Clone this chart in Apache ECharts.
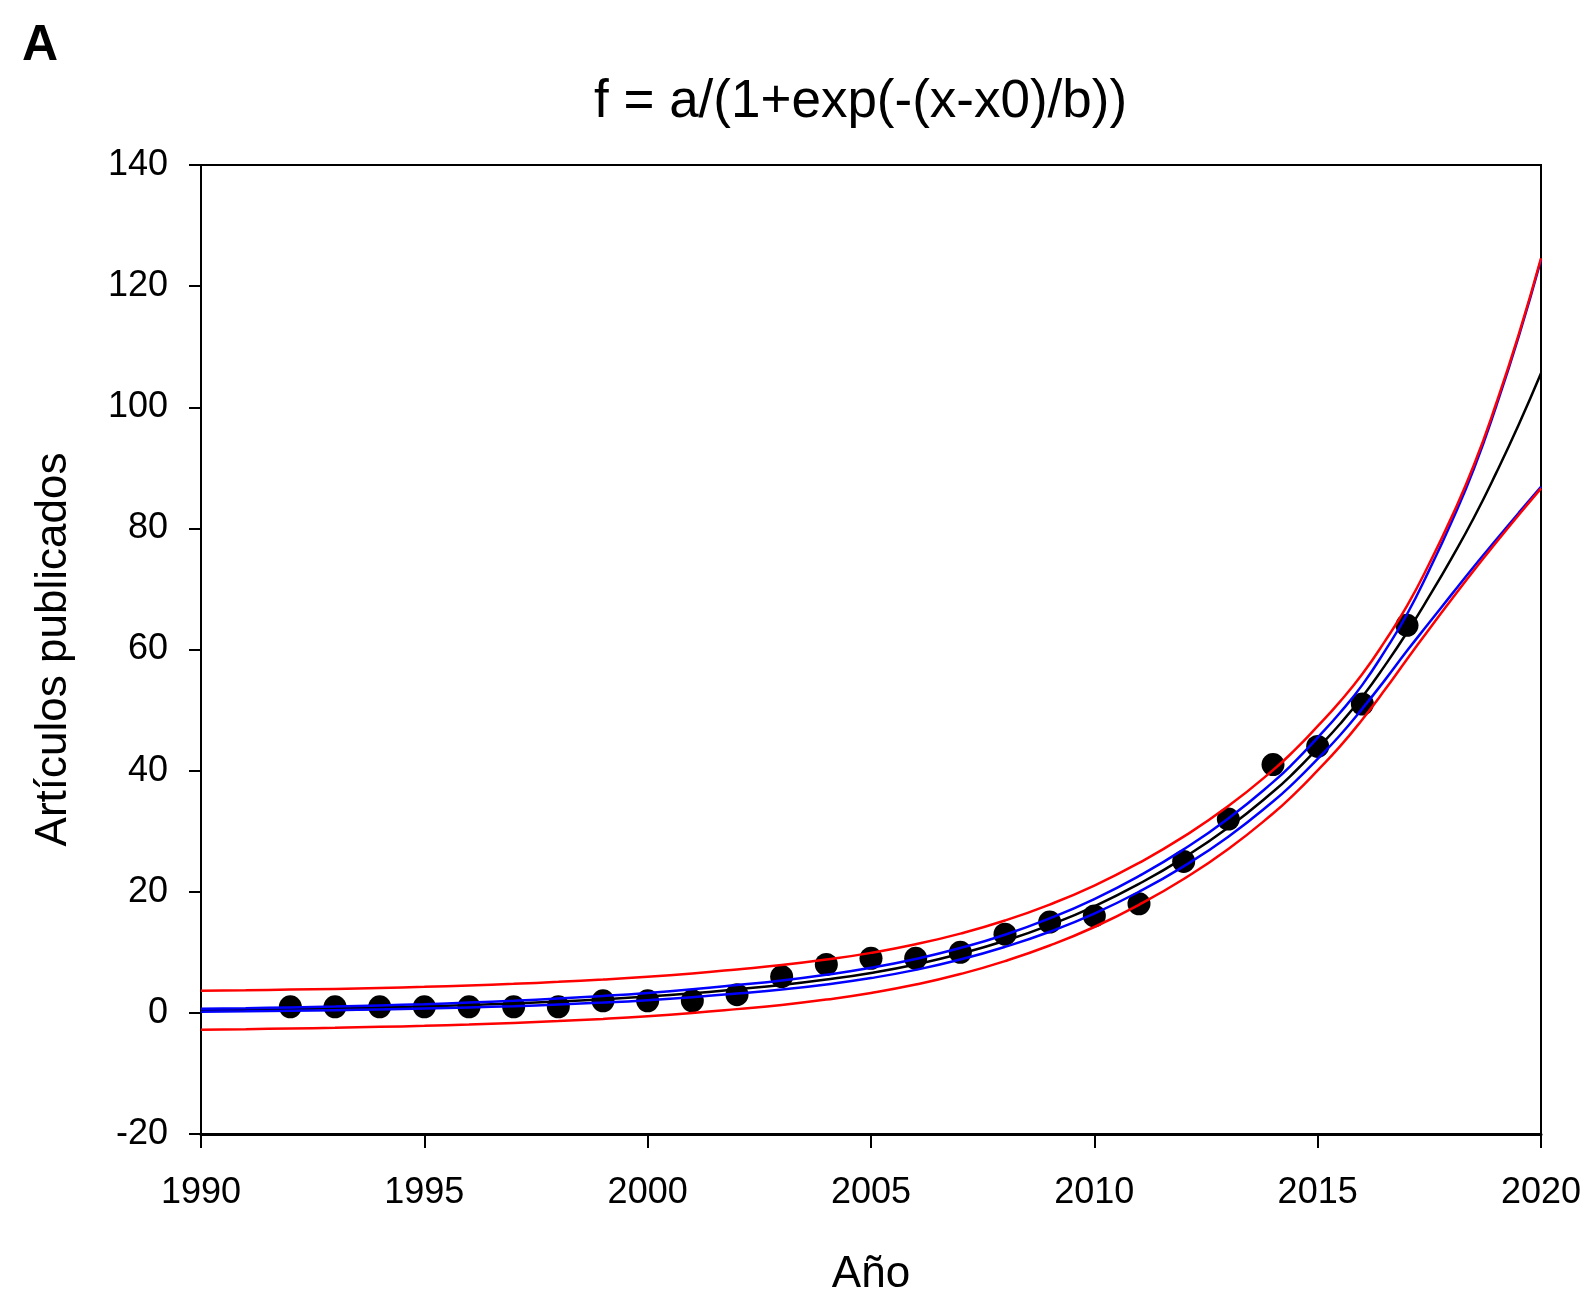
<!DOCTYPE html>
<html>
<head>
<meta charset="utf-8">
<title>Artículos publicados</title>
<script src="https://cdn.jsdelivr.net/npm/echarts@6/dist/echarts.min.js"></script>
<style>
  html, body { margin: 0; padding: 0; background: #fff; }
  #main { width: 1586px; height: 1295px; }
</style>
</head>
<body>
<div id="main"></div>
<script>
// observed counts
var pointYears = [1992, 1993, 1994, 1995, 1996, 1997, 1998, 1999, 2000, 2001, 2002, 2003, 2004,
  2005, 2006, 2007, 2008, 2009, 2010, 2011, 2012, 2013, 2014, 2015, 2016, 2017];
var articles = [1, 1, 1, 1, 1, 1, 1, 2, 2, 2, 3, 6, 8, 9, 9, 10, 13, 15, 16, 18, 25, 32, 41, 44, 51, 64];

// curves (yearly, half-yearly where the bands open up)
var curveYears = [1990, 1991, 1992, 1993, 1994, 1995, 1996, 1997, 1998, 1999, 2000, 2001, 2002, 2003,
  2004, 2005, 2006, 2007, 2008, 2009, 2010, 2011, 2012, 2013, 2014, 2014.5, 2015, 2015.5, 2016,
  2016.5, 2017, 2017.5, 2018, 2018.5, 2019, 2019.5, 2020];
var fit = [0.44, 0.52, 0.63, 0.75, 0.9, 1.08, 1.3, 1.56, 1.88, 2.25, 2.7, 3.25, 3.9, 4.6,
  5.5, 6.6, 8.0, 9.75, 11.9, 14.5, 17.6, 21.3, 25.6, 30.6, 36.5, 39.9, 43.7, 47.7, 52.2,
  57.3, 62.8, 68.8, 75.1, 81.8, 89.2, 97.1, 105.6];
var confUpper = [0.69, 0.77, 0.9, 1.05, 1.23, 1.44, 1.7, 2.01, 2.38, 2.8, 3.3, 3.9, 4.6, 5.35,
  6.3, 7.45, 8.9, 10.7, 12.9, 15.6, 18.8, 22.6, 27.0, 32.1, 38.1, 41.57, 45.46, 49.56, 54.16,
  59.7, 65.82, 73.15, 81.1, 89.89, 100.25, 111.65, 124.33];
var confLower = [0.19, 0.27, 0.36, 0.45, 0.57, 0.72, 0.9, 1.11, 1.38, 1.7, 2.1, 2.6, 3.2, 3.85,
  4.7, 5.75, 7.1, 8.8, 10.9, 13.4, 16.4, 20.0, 24.2, 29.1, 34.9, 38.23, 41.94, 45.84, 50.24,
  54.9, 59.78, 64.45, 69.1, 73.71, 78.15, 82.55, 86.87];
var predUpper = [3.65, 3.73, 3.84, 3.96, 4.11, 4.3, 4.53, 4.79, 5.12, 5.5, 5.96, 6.52, 7.18, 7.89,
  8.8, 9.91, 11.33, 13.09, 15.25, 17.88, 21.02, 24.76, 29.1, 34.14, 40.08, 43.51, 47.35, 51.4, 55.95,
  61.3, 67.2, 74.2, 81.9, 90.5, 100.7, 112.0, 124.6];
var predLower = [-2.77, -2.69, -2.58, -2.46, -2.31, -2.14, -1.93, -1.67, -1.36, -1.0, -0.56, -0.02, 0.62, 1.31,
  2.2, 3.29, 4.67, 6.41, 8.55, 11.12, 14.18, 17.84, 22.1, 27.06, 32.92, 36.29, 40.05, 44.0, 48.45,
  53.3, 58.4, 63.4, 68.3, 73.1, 77.7, 82.2, 86.6];

var fontFamily = '"Liberation Sans", Arial, Helvetica, sans-serif';

function pairs(xs, ys) {
  return xs.map(function (x, i) { return [x, ys[i]]; });
}

function curve(name, values, color, z) {
  return {
    name: name,
    type: 'line',
    data: pairs(curveYears, values),
    smooth: true,
    showSymbol: false,
    clip: true,
    z: z,
    lineStyle: { color: color, width: 2.5 }
  };
}

var chartDom = document.getElementById('main');
var myChart = echarts.init(chartDom, null, { renderer: 'canvas' });
var option;

option = {
  animation: false,
  backgroundColor: '#fff',
  textStyle: { fontFamily: fontFamily },
  title: [
    {
      text: 'A',
      left: 17,
      top: 16,
      textStyle: { fontFamily: fontFamily, fontSize: 50, fontWeight: 'bold', color: '#000' }
    },
    {
      text: 'f = a/(1+exp(-(x-x0)/b))',
      left: 589,
      top: 71,
      textStyle: { fontFamily: fontFamily, fontSize: 53, fontWeight: 'normal', color: '#000' }
    }
  ],
  grid: {
    left: 201,
    right: 45,
    top: 165,
    bottom: 161,
    outerBoundsMode: 'none',
    containLabel: false,
    show: true,
    borderColor: '#000',
    borderWidth: 2
  },
  xAxis: {
    type: 'value',
    min: 1990,
    max: 2020,
    interval: 5,
    name: 'Año',
    nameLocation: 'middle',
    nameGap: 119,
    nameTextStyle: { fontFamily: fontFamily, fontSize: 44, color: '#000' },
    axisLine: { onZero: false, lineStyle: { color: '#000', width: 3 } },
    axisTick: { inside: false, length: 14, lineStyle: { color: '#000', width: 2 } },
    axisLabel: {
      margin: 41,
      fontFamily: fontFamily,
      fontSize: 36,
      color: '#000',
      formatter: function (v) { return String(v); }
    },
    splitLine: { show: false }
  },
  yAxis: {
    type: 'value',
    min: -20,
    max: 140,
    interval: 20,
    name: 'Artículos publicados',
    nameLocation: 'middle',
    nameGap: 125,
    nameTextStyle: { fontFamily: fontFamily, fontSize: 44, color: '#000' },
    axisLine: { onZero: false, lineStyle: { color: '#000', width: 2 } },
    axisTick: { inside: false, length: 12, lineStyle: { color: '#000', width: 2 } },
    axisLabel: {
      margin: 33,
      fontFamily: fontFamily,
      fontSize: 36,
      color: '#000'
    },
    splitLine: { show: false }
  },
  series: [
    {
      name: 'Artículos',
      type: 'scatter',
      data: pairs(pointYears, articles),
      symbol: 'circle',
      symbolSize: 23,
      z: 1,
      itemStyle: { color: '#000', opacity: 1 }
    },
    curve('Ajuste', fit, '#000', 3),
    curve('IC superior', confUpper, '#0000ff', 4),
    curve('IC inferior', confLower, '#0000ff', 4),
    curve('IP superior', predUpper, '#ff0000', 5),
    curve('IP inferior', predLower, '#ff0000', 5)
  ]
};

option && myChart.setOption(option);

window.onresize = function () {
  myChart.resize();
};
</script>
</body>
</html>
